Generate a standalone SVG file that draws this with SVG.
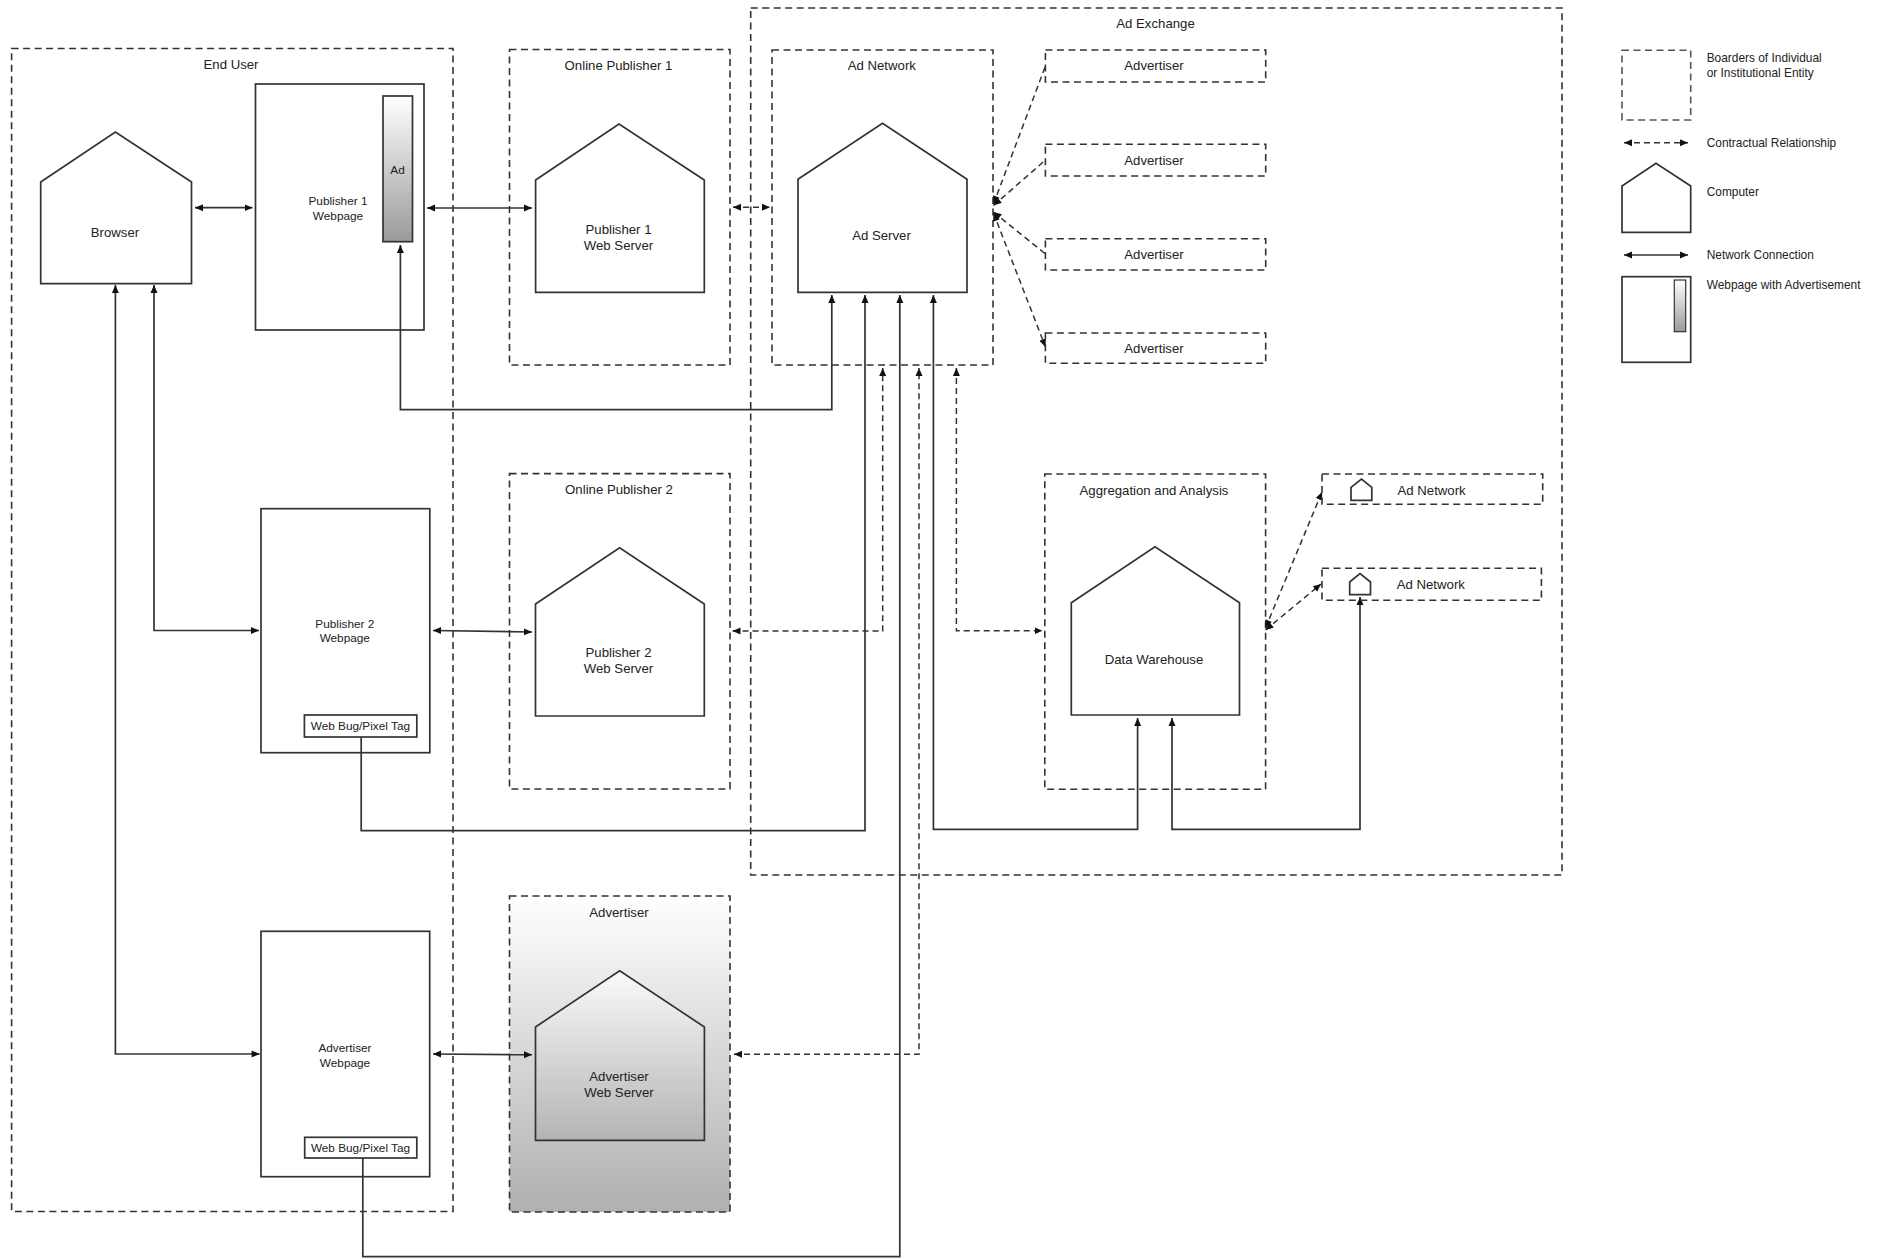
<svg xmlns="http://www.w3.org/2000/svg" width="1885" height="1259" viewBox="0 0 1885 1259">
<style>
text{font-family:"Liberation Sans",Arial,sans-serif;font-size:13.2px;fill:#222;text-anchor:middle}
.sm{font-size:11.8px}
.lg{font-size:11.9px;text-anchor:start}
.b{fill:none;stroke:#333;stroke-width:1.6;stroke-dasharray:7 4.5}
.s{fill:#fff;stroke:#333;stroke-width:1.7}
.n{fill:none;stroke:#333;stroke-width:1.7;marker-end:url(#a)}
.nn{fill:none;stroke:#333;stroke-width:1.7;marker-start:url(#as);marker-end:url(#a)}
.d{fill:none;stroke:#333;stroke-width:1.5;stroke-dasharray:6 4;marker-start:url(#as);marker-end:url(#a)}
.d1{fill:none;stroke:#333;stroke-width:1.5;stroke-dasharray:6 4;marker-start:url(#as)}
</style>
<defs>
<marker id="a" markerUnits="userSpaceOnUse" markerWidth="9" markerHeight="8" refX="8" refY="4" orient="auto"><path d="M0 0.5L8 4L0 7.5z" fill="#111"/></marker>
<marker id="as" markerUnits="userSpaceOnUse" markerWidth="9" markerHeight="8" refX="0" refY="4" orient="auto"><path d="M8 0.5L0 4L8 7.5z" fill="#111"/></marker>
<linearGradient id="g" x1="0" y1="0" x2="0" y2="1"><stop offset="0" stop-color="#fff"/><stop offset="1" stop-color="#b0b0b0"/></linearGradient>
<linearGradient id="g2" x1="0" y1="0" x2="0" y2="1"><stop offset="0" stop-color="#fafafa"/><stop offset="1" stop-color="#b4b4b4"/></linearGradient>
<linearGradient id="g3" x1="0" y1="0" x2="0" y2="1"><stop offset="0" stop-color="#fff"/><stop offset="1" stop-color="#9a9a9a"/></linearGradient>
</defs>
<g id="boundaries">
<g id="ad-exchange"><rect class="b" x="750.7" y="8" width="811.3" height="867"/><text x="1155.500" y="28">Ad Exchange</text></g>
<g id="end-user"><rect class="b" x="11.600" y="48.500" width="441.400" height="1163"/><text x="231" y="69">End User</text></g>
<g id="online-publisher-1"><rect class="b" x="509.500" y="49.500" width="220.500" height="315.500"/><text x="618.500" y="70">Online Publisher 1</text></g>
<g id="online-publisher-2"><rect class="b" x="509.500" y="473.600" width="220.500" height="315.400"/><text x="619" y="494">Online Publisher 2</text></g>
<g id="advertiser-main"><rect class="b" x="509.500" y="896" width="220.500" height="316" style="fill:url(#g)"/><text x="619" y="917">Advertiser</text></g>
<g id="ad-network"><rect class="b" x="772" y="50" width="221" height="315"/><text x="881.800" y="70">Ad Network</text></g>
<g id="aggregation"><rect class="b" x="1044.800" y="474" width="220.800" height="315.300"/><text x="1154" y="494.500">Aggregation and Analysis</text></g>
</g>
<g id="connectors">
<path class="nn" d="M195 207.700H252.500"/>
<path class="nn" d="M427 208H532"/>
<path class="d" d="M733 207.300H770"/>
<path class="nn" d="M400.400 245V409.700H831.800V295"/>
<path class="n" d="M361.200 737V830.700H865V295"/>
<path class="n" d="M362.800 1158V1256.700H899.800V295"/>
<path class="nn" d="M933.400 295V829.300H1137.600V718"/>
<path class="nn" d="M1360 597V829.300H1172V718"/>
<path class="nn" d="M259 630.500H154V285"/>
<path class="nn" d="M259.600 1054H115.400V285"/>
<path class="nn" d="M433 630.500L532 632"/>
<path class="nn" d="M433 1054L532 1054.700"/>
<path class="d" d="M732.500 631H882.700V368"/>
<path class="d" d="M734 1054.300H919V368"/>
<path class="d" d="M956.400 368V630.700H1042.500"/>
<path class="d1" d="M993.500 204L1045.500 66"/>
<path class="d1" d="M993.500 205.500L1045.500 160"/>
<path class="d1" d="M993.500 212L1045.500 254"/>
<path class="d" d="M993.500 213L1045.500 347"/>
<path class="d" d="M1265.500 628L1322 492"/>
<path class="d" d="M1265.500 630L1321 584"/>
</g>
<g id="browser"><polygon class="s" points="40.700,182 115.400,132 191.500,182 191.500,283.700 40.700,283.700"/><text x="115" y="237">Browser</text></g>
<g id="publisher-1-webpage"><rect x="255.500" y="84" width="168.500" height="246" fill="none" stroke="#333" stroke-width="1.7"/><text class="sm" x="338" y="205">Publisher 1</text><text class="sm" x="338" y="219.500">Webpage</text></g>
<g id="ad"><rect x="383" y="96" width="29.500" height="145.700" fill="url(#g3)" stroke="#333" stroke-width="1.7"/><text class="sm" x="397.500" y="174">Ad</text></g>
<g id="publisher-1-server"><polygon class="s" points="535.600,180 619,124 704.300,180 704.300,292.300 535.600,292.300"/><text x="618.500" y="234">Publisher 1</text><text x="618.500" y="250">Web Server</text></g>
<g id="ad-server"><polygon class="s" points="798,179.300 882.500,123.300 967,179.300 967,292.300 798,292.300"/><text x="881.500" y="240">Ad Server</text></g>
<g id="advertiser-1"><rect class="b" x="1045.400" y="50" width="220.300" height="32"/><text x="1154" y="70">Advertiser</text></g>
<g id="advertiser-2"><rect class="b" x="1045.400" y="144.300" width="220.300" height="31.700"/><text x="1154" y="164.500">Advertiser</text></g>
<g id="advertiser-3"><rect class="b" x="1045.400" y="238.700" width="220.300" height="31.300"/><text x="1154" y="259">Advertiser</text></g>
<g id="advertiser-4"><rect class="b" x="1045.400" y="333" width="220.300" height="30.300"/><text x="1154" y="353">Advertiser</text></g>
<g id="publisher-2-webpage"><rect x="261" y="508.700" width="168.800" height="244" fill="none" stroke="#333" stroke-width="1.7"/><text class="sm" x="344.800" y="628">Publisher 2</text><text class="sm" x="344.800" y="642">Webpage</text></g>
<g id="web-bug-1"><rect class="s" x="304.400" y="715" width="112.400" height="22"/><text class="sm" x="360.400" y="730">Web Bug/Pixel Tag</text></g>
<g id="publisher-2-server"><polygon class="s" points="535.500,604 619.600,547.700 704.300,604 704.300,716 535.500,716"/><text x="618.500" y="657">Publisher 2</text><text x="618.500" y="673">Web Server</text></g>
<g id="data-warehouse"><polygon class="s" points="1071.300,602.700 1155,546.700 1239.500,602.700 1239.500,715 1071.300,715"/><text x="1154" y="664">Data Warehouse</text></g>
<g id="ad-network-1"><rect class="b" x="1322" y="474" width="220.700" height="30.300"/><polygon class="s" points="1351,487.300 1361.500,479 1371.800,487.300 1371.800,500.300 1351,500.300"/><text x="1431.600" y="494.500">Ad Network</text></g>
<g id="ad-network-2"><rect class="b" x="1322" y="568.300" width="219.400" height="32"/><polygon class="s" points="1349.700,582 1360,573.700 1370.500,582 1370.500,594.700 1349.700,594.700"/><text x="1430.800" y="588.500">Ad Network</text></g>
<g id="advertiser-webpage"><rect x="261" y="931.300" width="168.700" height="245.400" fill="none" stroke="#333" stroke-width="1.700"/><text class="sm" x="345" y="1052">Advertiser</text><text class="sm" x="345" y="1066.500">Webpage</text></g>
<g id="web-bug-2"><rect class="s" x="304.700" y="1137.300" width="112.100" height="20.700"/><text class="sm" x="360.500" y="1152">Web Bug/Pixel Tag</text></g>
<g id="advertiser-server"><polygon points="535.500,1027 619.700,970.700 704.400,1027 704.400,1140.300 535.500,1140.300" fill="url(#g2)" stroke="#333" stroke-width="1.7"/><text x="619" y="1081">Advertiser</text><text x="619" y="1097">Web Server</text></g>
<g id="legend">
<rect class="b" x="1622" y="50.300" width="68.700" height="69.700" style="stroke:#555"/>
<text class="lg" x="1706.700" y="62">Boarders of Individual</text><text class="lg" x="1706.700" y="76.500">or Institutional Entity</text>
<path class="d" d="M1624 142.700H1688"/><text class="lg" x="1706.700" y="146.500">Contractual Relationship</text>
<polygon class="s" points="1622,186 1656,163.300 1690.700,186 1690.700,232.300 1622,232.300"/><text class="lg" x="1706.700" y="196">Computer</text>
<path class="nn" d="M1624 255H1688"/><text class="lg" x="1706.700" y="259">Network Connection</text>
<rect class="s" x="1622" y="276.700" width="68.700" height="85.600"/>
<rect x="1674.300" y="280" width="11.400" height="51.700" fill="url(#g3)" stroke="#333" stroke-width="1.200"/>
<text class="lg" x="1706.700" y="289">Webpage with Advertisement</text>
</g>
</svg>
